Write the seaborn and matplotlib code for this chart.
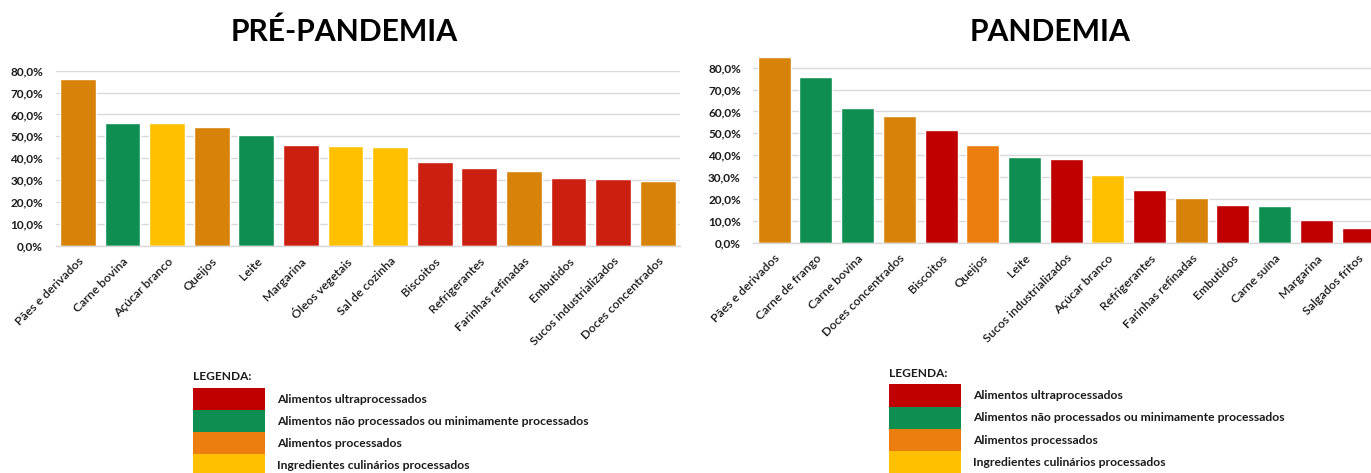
import matplotlib
matplotlib.use("Agg")
import matplotlib.pyplot as plt
from matplotlib.patches import Rectangle
from matplotlib.ticker import FixedLocator, FuncFormatter
import seaborn as sns
import pandas as pd

# ---- data -------------------------------------------------------------
pre_items = ["Pães e derivados", "Carne bovina", "Açúcar branco", "Queijos", "Leite",
             "Margarina", "Óleos vegetais", "Sal de cozinha", "Biscoitos", "Refrigerantes",
             "Farinhas refinadas", "Embutidos", "Sucos industrializados", "Doces concentrados"]
pre_values = [76.2, 56.1, 56.1, 54.1, 50.5, 45.9, 45.4, 45.0, 38.4, 35.4, 34.3, 30.8, 30.4, 29.7]
pre_groups = ["P2", "IN", "ICP", "P2", "IN", "UP", "ICP", "ICP", "UP", "UP", "P2", "UP", "UP", "P2"]

pan_items = ["Pães e derivados", "Carne de frango", "Carne bovina", "Doces concentrados", "Biscoitos",
             "Queijos", "Leite", "Sucos industrializados", "Açúcar branco", "Refrigerantes",
             "Farinhas refinadas", "Embutidos", "Carne suína", "Margarina", "Salgados fritos"]
pan_values = [85.0, 75.9, 61.7, 58.1, 51.7, 44.7, 39.0, 38.1, 30.9, 23.9, 20.4, 17.4, 16.9, 10.2, 6.7]
pan_groups = ["P2", "IN", "IN", "P2", "UP", "P", "IN", "UP", "ICP", "UP", "P2", "UP", "IN", "UP", "UP"]

y_ticks = [0, 10, 20, 30, 40, 50, 60, 70, 80]

legend_labels = ["Alimentos ultraprocessados",
                 "Alimentos não processados ou minimamente processados",
                 "Alimentos processados",
                 "Ingredientes culinários processados"]
legend_groups = ["UP", "IN", "P", "ICP"]

# ---- styling ----------------------------------------------------------
pre_palette = {"UP": "#CB1F0F", "IN": "#0E8E50", "P": "#EC7E10", "P2": "#D7830A", "ICP": "#FFC000"}
pan_palette = {"UP": "#C00000", "IN": "#0E8E50", "P": "#EC7E10", "P2": "#D7830A", "ICP": "#FFC000"}

sns.set_theme(style="white")
plt.rcParams["font.family"] = ["Lato", "DejaVu Sans"]

W, H = 1371, 473
fig = plt.figure(figsize=(W / 100, H / 100), dpi=100)


def px_axes(x0, x1, y_top, y_bot):
    return fig.add_axes([x0 / W, 1 - y_bot / H, (x1 - x0) / W, (y_bot - y_top) / H])


def draw_panel(ax, items, values, groups, palette, ymax, width):
    df = pd.DataFrame({"item": items, "valor": values, "grupo": groups})
    sns.barplot(data=df, x="item", y="valor", hue="grupo", palette=palette, order=items,
                dodge=False, width=width, saturation=1, legend=False, ax=ax)
    ax.set_ylim(0, ymax)
    ax.set_xlim(-0.5, len(items) - 0.5)
    ax.yaxis.set_major_locator(FixedLocator(y_ticks))
    ax.yaxis.set_major_formatter(FuncFormatter(lambda v, _: f"{v:.1f}%".replace(".", ",")))
    ax.grid(axis="y", color="#D9D9D9", lw=1)
    ax.set_axisbelow(True)
    for s in ["top", "right", "left"]:
        ax.spines[s].set_visible(False)
    ax.spines["bottom"].set_color("#D9D9D9")
    ax.spines["bottom"].set_linewidth(1)
    ax.tick_params(axis="y", length=0, pad=9, labelsize=8.5, colors="#1a1a1a")
    ax.tick_params(axis="x", length=0, pad=7, labelsize=8.8, colors="#1a1a1a")
    for t in ax.get_yticklabels():
        t.set_fontweight("bold")
    ax.set_xlabel("")
    ax.set_ylabel("")
    plt.setp(ax.get_xticklabels(), rotation=45, ha="right", rotation_mode="anchor",
             fontweight=600)
    ax.set_facecolor("white")


# left panel: 0% at y=245.7, 80% at y=70.7
ax1 = px_axes(55.6, 680, 70.7, 245.7)
draw_panel(ax1, pre_items, pre_values, pre_groups, pre_palette, 80, 0.8)

# right panel: 0% at y=242.7, 2.1875 px per percentage point
ax2 = px_axes(753.4, 1378.9, 242.7 - 86 * 2.1875, 242.7)
draw_panel(ax2, pan_items, pan_values, pan_groups, pan_palette, 86, 0.79)

fig.text(344.5 / W, 1 - 32 / H, "PRÉ-PANDEMIA", ha="center", va="center",
         fontsize=21.7, fontweight="bold", color="black")
fig.text(1050 / W, 1 - 32 / H, "PANDEMIA", ha="center", va="center",
         fontsize=21.7, fontweight="bold", color="black")


def draw_legend(x_box, box_w, y_head, y_first, row_h, x_text, palette):
    fig.text(x_box / W, 1 - y_head / H, "LEGENDA:", ha="left", va="center",
             fontsize=8.6, fontweight="bold", color="#1a1a1a")
    for i, (g, lab) in enumerate(zip(legend_groups, legend_labels)):
        top = y_first + i * row_h
        fig.patches.append(Rectangle((x_box / W, 1 - (top + row_h) / H), box_w / W, row_h / H,
                                     transform=fig.transFigure, facecolor=palette[g],
                                     edgecolor="none", figure=fig))
        fig.text(x_text / W, 1 - (top + row_h / 2) / H, lab, ha="left", va="center",
                 fontsize=8.75, fontweight="bold", color="#1a1a1a")


draw_legend(192.5, 72, 376, 388.3, 22, 277, pan_palette)
draw_legend(889, 72, 373.3, 384.3, 22.3, 973, pan_palette)

fig.savefig("out.png", dpi=100, facecolor="white")
